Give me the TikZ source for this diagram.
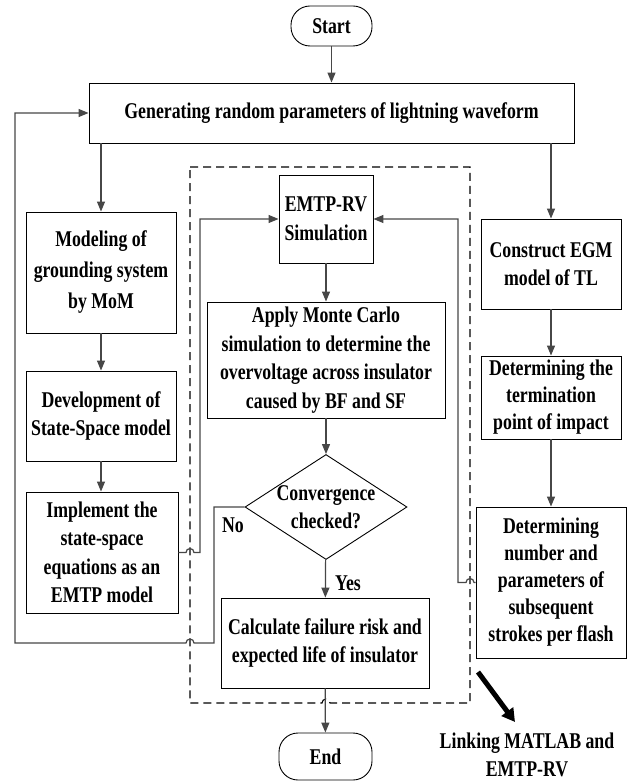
\documentclass[tikz,border=0pt]{standalone}
\usepackage{fontspec}
\setmainfont{Liberation Serif}[FakeStretch=0.79]
\usetikzlibrary{shapes.geometric,arrows.meta}
\tikzset{
  box/.style={draw=black, line width=0.9pt, align=center, inner sep=1pt,
    font=\fontsize{22.5}{28.5}\selectfont\bfseries},
  terminal/.style={box, rounded corners=19pt},
  decision/.style={draw=black, line width=0.9pt, diamond, inner sep=0pt},
  txt/.style={align=center, inner sep=0pt, font=\fontsize{22.5}{28}\selectfont\bfseries},
  arr/.style={draw=black!72, line width=1.2pt, -{Triangle[length=10pt,width=8pt]}},
  dashbox/.style={draw=black, line width=1.1pt, dash pattern=on 8pt off 5pt},
  bigarrow/.style={draw=black, line width=5pt, -{Triangle[length=13pt,width=14pt]}}
}
\begin{document}
\begin{tikzpicture}[x=1pt,y=1pt]
\useasboundingbox (0,0) rectangle (642,-783);

% terminals and main boxes
\node[terminal, minimum width=81pt, minimum height=40pt] (start) at (331.5,-26) {Start};
\node[box, minimum width=485pt, minimum height=60pt] (gen) at (331.5,-113) {Generating random parameters of lightning waveform};

% left column
\node[box, minimum width=150pt, minimum height=121pt, font=\fontsize{22.5}{31}\selectfont\bfseries] (mod) at (101,-272.5) {Modeling of\\grounding system\\by MoM};
\node[box, minimum width=150pt, minimum height=90pt] (dev) at (101,-416) {Development of\\State-Space model};
\node[box, minimum width=152pt, minimum height=121pt] (imp) at (102,-552.5) {Implement the\\state-space\\equations as an\\EMTP model};

% centre column
\node[box, minimum width=94pt, minimum height=88pt] (emtp) at (326,-219) {EMTP-RV\\Simulation};
\node[box, minimum width=238pt, minimum height=116pt] (apply) at (326,-360) {Apply Monte Carlo\\simulation to determine the\\overvoltage across insulator\\caused by BF and SF};
\node[decision, minimum width=162pt, minimum height=105pt] (conv) at (326,-507) {};
\node[txt] (convtext) at (conv) {Convergence\\checked?};
\node[box, minimum width=208pt, minimum height=90pt] (calc) at (325,-643) {Calculate failure risk and\\expected life of insulator};
\node[terminal, minimum width=93pt, minimum height=47pt] (end) at (325.5,-756.5) {End};

% right column
\node[box, minimum width=140pt, minimum height=90pt] (egm) at (551,-264) {Construct EGM\\model of TL};
\node[box, minimum width=140pt, minimum height=83pt, font=\fontsize{22.5}{27}\selectfont\bfseries] (term) at (551,-397.5) {Determining the\\termination\\point of impact};
\node[box, minimum width=150pt, minimum height=151pt, font=\fontsize{22.5}{27}\selectfont\bfseries] (num) at (551,-582.5) {Determining\\number and\\parameters of\\subsequent\\strokes per flash};

% labels
\node[txt] (no) at (233,-525) {No};
\node[txt] (yes) at (348,-583) {Yes};
\node[txt] (link) at (527,-755) {Linking MATLAB and\\EMTP-RV};

% dashed region
\draw[dashbox] (190,-167) -- (470,-167) -- (470,-703) -- (330,-703)
  arc[start angle=0,end angle=180,radius=4pt] -- (190,-703) -- cycle;

% straight connectors
\draw[arr] (start) -- (gen);
\draw[arr] (gen.south -| mod) -- (mod);
\draw[arr] (gen.south -| egm) -- (egm);
\draw[arr] (mod) -- (dev);
\draw[arr] (dev) -- (imp.north -| dev);
\draw[arr] (emtp) -- (apply);
\draw[arr] (apply) -- (conv);
\draw[arr] (conv) -- (calc);
\draw[arr] (calc) -- (end);
\draw[arr] (egm) -- (term);
\draw[arr] (term) -- (num);

% implement -> EMTP-RV (hop over dashed line)
\coordinate (c1) at (200,-552.5);
\draw[arr] (imp.east) -- (186,-552.5) arc[start angle=180,end angle=0,radius=4pt]
  -- (c1) -- (c1 |- emtp.west) -- (emtp.west);

% No loop back to generator
\coordinate (n1) at (214,-507);
\coordinate (n2) at (214,-643);
\coordinate (n3) at (15,-643);
\draw[arr] (conv.west) -- (n1) -- (n2) -- (194,-643) arc[start angle=0,end angle=180,radius=4pt]
  -- (n3) -- (n3 |- gen.west) -- (gen.west);

% subsequent strokes -> EMTP-RV
\coordinate (r1) at (458,-582.5);
\draw[arr] (num.west) -- (474,-582.5) arc[start angle=0,end angle=180,radius=4pt]
  -- (r1) -- (r1 |- emtp.east) -- (emtp.east);

% thick arrow to the linking note
\coordinate (t1) at (478,-672);
\coordinate (t2) at (515,-722);
\draw[bigarrow] (t1) -- (t2);
\end{tikzpicture}
\end{document}
